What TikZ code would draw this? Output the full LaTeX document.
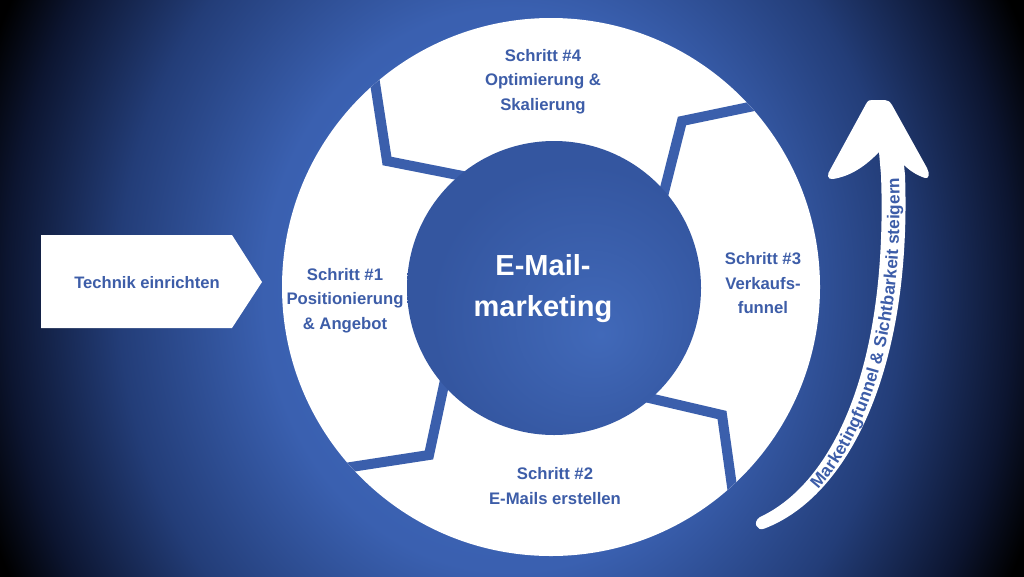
\documentclass[tikz,border=0pt]{standalone}
\usepackage{fontspec}
\setmainfont{Liberation Sans}
\usetikzlibrary{decorations.text}
\definecolor{txt}{HTML}{3D5DA8}
\definecolor{sep}{HTML}{3B5FAC}
\definecolor{bgA}{HTML}{4169BC}
\definecolor{bgB}{HTML}{3A60B0}
\definecolor{bgC}{HTML}{233D78}
\definecolor{bgD}{HTML}{0C1530}
\definecolor{cirA}{HTML}{4169B9}
\definecolor{cirB}{HTML}{3456A0}
\pgfdeclareradialshading{bgshade}{\pgfpoint{0bp}{0bp}}{color(0bp)=(bgA); color(11bp)=(bgB); color(17.5bp)=(bgC); color(22.5bp)=(bgD); color(25bp)=(black); color(50bp)=(black)}
\pgfdeclareradialshading{cirshade}{\pgfpoint{8bp}{-8bp}}{color(0bp)=(cirA); color(25bp)=(cirB); color(50bp)=(cirB)}
\tikzset{
  steptxt/.style={text=txt, align=center, font=\fontsize{16.7}{24.5}\selectfont\bfseries, inner sep=0pt},
  centertxt/.style={text=white, align=center, font=\fontsize{29}{41}\selectfont\bfseries, inner sep=0pt},
  sepline/.style={draw=sep, line width=10pt, line join=miter, line cap=butt},
}
\begin{document}
\begin{tikzpicture}[x=1pt,y=1pt]
\useasboundingbox (0,0) rectangle (1024,-576);
\clip (0,0) rectangle (1024,-576);
\fill[black] (0,0) rectangle (1024,-576);
\shade[shading=bgshade] (-50,350) rectangle (1070,-930);

% ring
\fill[white] (551,-287) circle[radius=269];
\begin{scope}
  \clip (551,-287) circle[radius=269];
  \draw[sepline] (478,-179) -- (387,-161) -- (371,-57);
  \draw[sepline] (660,-208) -- (682,-121) -- (783,-100);
  \draw[sepline] (632,-394) -- (722,-415) -- (736,-515);
  \draw[sepline] (448,-366) -- (429,-455) -- (325,-471);
\end{scope}
\shade[shading=cirshade] (554,-288) circle[radius=147];

% texts in ring
\node[steptxt] (s4) at (543,-81.5) {Schritt \#4\\Optimierung \&\\Skalierung};
\node[steptxt] (s1) at (345,-300.5) {Schritt \#1\\Positionierung\\\& Angebot};
\node[steptxt] (s3) at (763,-283.5) {Schritt \#3\\Verkaufs-\\funnel};
\node[steptxt] (s2) at (555,-486) {Schritt \#2\\E-Mails erstellen};
\node[centertxt] (core) at (543,-289) {E-Mail-\\marketing};

% left pentagon
\fill[white] (41,-235) -- (232,-235) -- (262,-282) -- (232,-328) -- (41,-328) -- cycle;
\node[steptxt, font=\fontsize{16.6}{20}\selectfont\bfseries] (tech) at (147,-283) {Technik einrichten};

% curved arrow
\fill[white] (760,-517) .. controls (833,-483) and (888,-367.5) .. (881,-175)
  -- (879,-152) .. controls (862,-170) and (846,-177) .. (833,-179)
  .. controls (827,-180) and (827,-174) .. (830,-170)
  -- (866,-104) .. controls (868,-100) and (870,-100) .. (872,-100)
  -- (885,-100) .. controls (888,-100) and (890,-102) .. (892,-105)
  -- (927,-168) .. controls (930,-174) and (929,-179) .. (925,-178)
  .. controls (916,-175) and (909,-170) .. (904,-165)
  -- (905,-175) .. controls (912,-372.5) and (847,-497) .. (764.5,-528.5)
  .. controls (757,-532) and (752,-522) .. (760,-517) -- cycle;
\path[decorate, decoration={text along path,
    text={|\fontsize{17.2}{17}\selectfont\bfseries|Marketingfunnel {\&} Sichtbarkeit steigern},
    text color=txt, text align={right, right indent=3pt}, raise=-6pt}]
  (762,-523) .. controls (840,-490) and (900,-370) .. (893,-175);
\end{tikzpicture}
\end{document}
